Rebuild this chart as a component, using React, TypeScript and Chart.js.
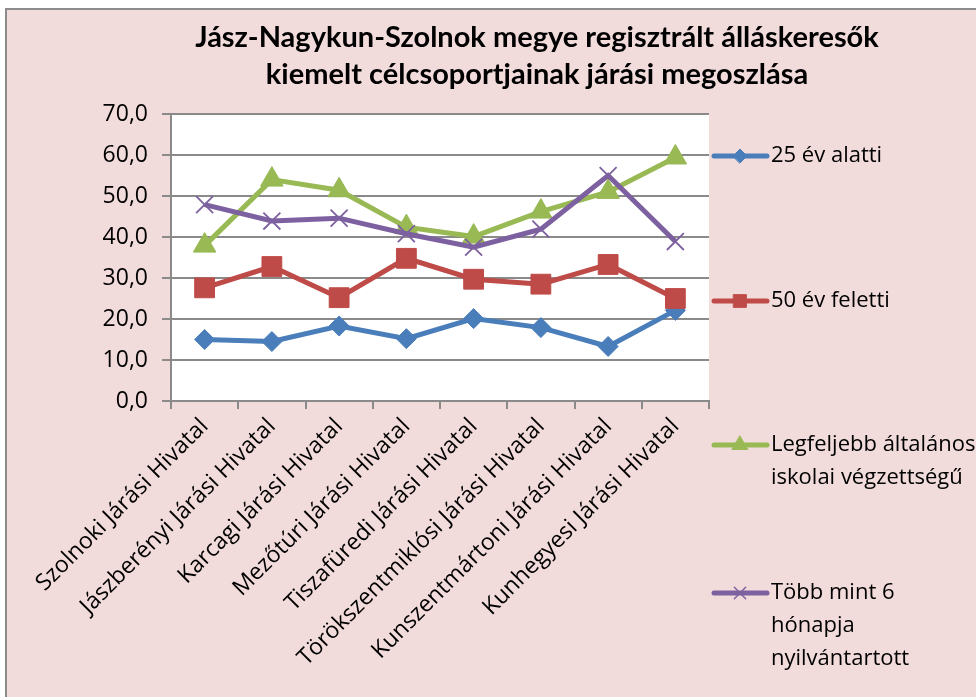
import React, { useEffect, useRef } from 'react';
import { Chart, registerables } from 'chart.js';
import { drawPoint } from 'chart.js/helpers';

Chart.register(...registerables);

const categories = [
  'Szolnoki Járási Hivatal',
  'Jászberényi Járási Hivatal',
  'Karcagi Járási Hivatal',
  'Mezőtúri Járási Hivatal',
  'Tiszafüredi Járási Hivatal',
  'Törökszentmiklósi Járási Hivatal',
  'Kunszentmártoni Járási Hivatal',
  'Kunhegyesi Járási Hivatal',
];
const under25 = [15.0, 14.5, 18.3, 15.2, 20.1, 17.9, 13.3, 22.1];
const over50 = [27.6, 32.8, 25.2, 34.8, 29.7, 28.5, 33.3, 25.0];
const primaryEdu = [37.9, 54.0, 51.4, 42.4, 40.1, 46.2, 51.0, 59.4];
const longTerm = [47.9, 43.9, 44.6, 40.8, 37.5, 41.9, 55.0, 38.9];
const seriesNames = [
  ['25 év alatti'],
  ['50 év feletti'],
  ['Legfeljebb általános', 'iskolai végzettségű'],
  ['Több mint 6', 'hónapja', 'nyilvántartott'],
];
const titleLines = [
  'Jász-Nagykun-Szolnok megye regisztrált álláskeresők',
  'kiemelt célcsoportjainak járási megoszlása',
];
const yMin = 0;
const yMax = 70;
const yStep = 10;

const FONT = '"Open Sans", sans-serif';
const GRID = '#8a8a8a';
const COLORS = ['#4A7EBB', '#BE4B48', '#98B954', '#7D60A0'];
const STYLES = ['rectRot', 'rect', 'triangle', 'crossRot'];
const RADII = [10, 14, 13, 12];
const LEGEND_RADII = [7, 9, 9, 8];

const fmt = (v: number) => v.toFixed(1).replace('.', ',');

const plotBgPlugin = {
  id: 'plotBg',
  beforeDraw(chart: any) {
    const { ctx, chartArea } = chart;
    ctx.save();
    ctx.fillStyle = '#ffffff';
    ctx.fillRect(chartArea.left, chartArea.top, chartArea.right - chartArea.left, chartArea.bottom - chartArea.top);
    ctx.restore();
  },
};

const titlePlugin = {
  id: 'customTitle',
  afterDraw(chart: any) {
    const { ctx } = chart;
    ctx.save();
    ctx.fillStyle = '#000';
    ctx.font = `bold 29px Lato, sans-serif`;
    ctx.textAlign = 'center';
    ctx.textBaseline = 'middle';
    titleLines.forEach((t, i) => ctx.fillText(t, 537, 38 + i * 37));
    ctx.restore();
  },
};

const legendPlugin = {
  id: 'customLegend',
  afterDraw(chart: any) {
    const { ctx } = chart;
    const tops = [156, 301, 445, 593];
    chart.data.datasets.forEach((ds: any, i: number) => {
      const y = tops[i];
      ctx.save();
      ctx.strokeStyle = ds.borderColor;
      ctx.lineWidth = 5;
      ctx.lineCap = 'round';
      ctx.beginPath();
      ctx.moveTo(714, y);
      ctx.lineTo(767, y);
      ctx.stroke();
      ctx.fillStyle = ds.borderColor;
      ctx.strokeStyle = ds.borderColor;
      ctx.lineWidth = STYLES[i] === 'crossRot' ? 1.5 : 1;
      drawPoint(ctx, { pointStyle: STYLES[i], radius: LEGEND_RADII[i], rotation: 0, borderWidth: ctx.lineWidth } as any, 740, y);
      ctx.fillStyle = '#000';
      ctx.font = `22px ${FONT}`;
      ctx.textAlign = 'left';
      ctx.textBaseline = 'middle';
      seriesNames[i].forEach((line, k) => ctx.fillText(line, 771, y + k * 33));
      ctx.restore();
    });
  },
};

export default function App() {
  const canvasRef = useRef<HTMLCanvasElement | null>(null);

  useEffect(() => {
    document.body.style.margin = '0';
    document.body.style.overflow = 'hidden';
    const canvas = canvasRef.current;
    if (!canvas) return;
    const data = [under25, over50, primaryEdu, longTerm];
    const chart = new Chart(canvas, {
      type: 'line',
      data: {
        labels: categories,
        datasets: data.map((vals, i) => ({
          label: seriesNames[i].join(' '),
          data: vals,
          borderColor: COLORS[i],
          backgroundColor: COLORS[i],
          borderWidth: 5,
          pointStyle: STYLES[i] as any,
          pointRadius: RADII[i],
          pointBorderWidth: STYLES[i] === 'crossRot' ? 1.8 : 1,
          pointBackgroundColor: COLORS[i],
          pointBorderColor: COLORS[i],
          tension: 0,
          order: 4 - i,
          clip: false as any,
        })),
      },
      options: {
        animation: false,
        responsive: false,
        maintainAspectRatio: false,
        layout: { padding: { left: 0, top: 114, right: 267, bottom: 0 } },
        plugins: {
          legend: { display: false },
          title: { display: false },
          tooltip: { enabled: false },
        },
        scales: {
          x: {
            type: 'category',
            offset: true,
            grid: {
              offset: true,
              drawOnChartArea: false,
              drawTicks: true,
              tickLength: 8,
              color: GRID,
              lineWidth: 2,
            },
            border: { display: true, color: GRID, width: 2 },
            ticks: {
              autoSkip: false,
              minRotation: 45,
              maxRotation: 45,
              padding: 4,
              color: '#000',
              font: { family: FONT, size: 23 },
            },
            afterFit(scale: any) {
              scale.height = 296;
            },
          },
          y: {
            min: yMin,
            max: yMax,
            grid: {
              drawOnChartArea: true,
              drawTicks: true,
              tickLength: 9,
              color: GRID,
              lineWidth: 2,
            },
            border: { display: true, color: GRID, width: 2 },
            ticks: {
              stepSize: yStep,
              padding: 14,
              color: '#000',
              font: { family: FONT, size: 23 },
              callback: (v: any) => fmt(Number(v)),
            },
            afterFit(scale: any) {
              scale.width = 171;
            },
          },
        },
      },
      plugins: [plotBgPlugin, titlePlugin, legendPlugin],
    });
    return () => chart.destroy();
  }, []);

  return (
    <div style={{ position: 'relative', width: 976, height: 697, background: '#ffffff', overflow: 'hidden' }}>
      <div
        style={{
          position: 'absolute',
          left: 5,
          top: 8,
          width: 990,
          height: 700,
          background: '#F2DCDB',
          borderLeft: '2px solid #8c8c8c',
          borderTop: '2px solid #8c8c8c',
        }}
      />
      <canvas
        ref={canvasRef}
        width={976}
        height={697}
        style={{ position: 'absolute', left: 0, top: 0, width: 976, height: 697 }}
      />
    </div>
  );
}
